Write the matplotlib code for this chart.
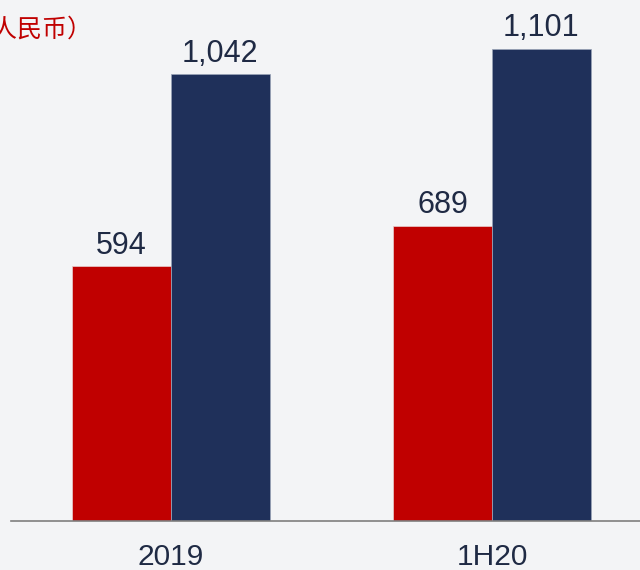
"""Two-period bar chart, red vs navy series"""
import numpy as np
import matplotlib.pyplot as plt

plt.rcParams['font.family'] = ['Liberation Sans', 'Noto Sans CJK SC', 'DejaVu Sans']

periods = ['2019', '1H20']
red_vals = [594, 689]
navy_vals = [1042, 1101]
unit_text = '（百万元人民币）'

RED = '#C00000'
NAVY = '#1F305A'
TEXT = '#1F2A44'

fig = plt.figure(figsize=(6.4, 5.7), dpi=100)
fig.patch.set_facecolor('#F3F4F6')

ax = fig.add_axes([11 / 640, 49 / 570, 629 / 640, 521 / 570])
ax.set_facecolor('none')

x = np.arange(len(periods))
w = 0.308
b1 = ax.bar(x - w / 2, red_vals, w, color=RED, edgecolor='#E8D0D0', linewidth=0.5)
b2 = ax.bar(x + w / 2, navy_vals, w, color=NAVY, edgecolor='#9AA4B8', linewidth=0.5)

for bars in (b1, b2):
    for r in bars:
        v = r.get_height()
        ax.annotate(f'{v:,.0f}', (r.get_x() + r.get_width() / 2, v),
                    xytext=(0, 4), textcoords='offset points',
                    ha='center', va='bottom', fontsize=22, color=TEXT)

ax.set_xlim(-0.498, 0.461 + 1)
ax.set_ylim(0, 1215)
ax.set_xticks(x)
ax.set_xticklabels(periods, fontsize=21.5, color=TEXT)
ax.tick_params(axis='x', length=0, pad=16)
ax.set_yticks([])
for s in ('top', 'right', 'left'):
    ax.spines[s].set_visible(False)
ax.spines['bottom'].set_color('#7F7F7F')
ax.spines['bottom'].set_linewidth(1.2)

# unit label runs off the left edge, as in the source slide
fig.text(93 / 640, 1 - 30 / 570, unit_text, ha='right', va='center',
         fontsize=18, color=RED, fontweight='light',
         family=['Noto Sans CJK SC', 'DejaVu Sans'])

fig.savefig('out.png', dpi=100, facecolor=fig.get_facecolor())
